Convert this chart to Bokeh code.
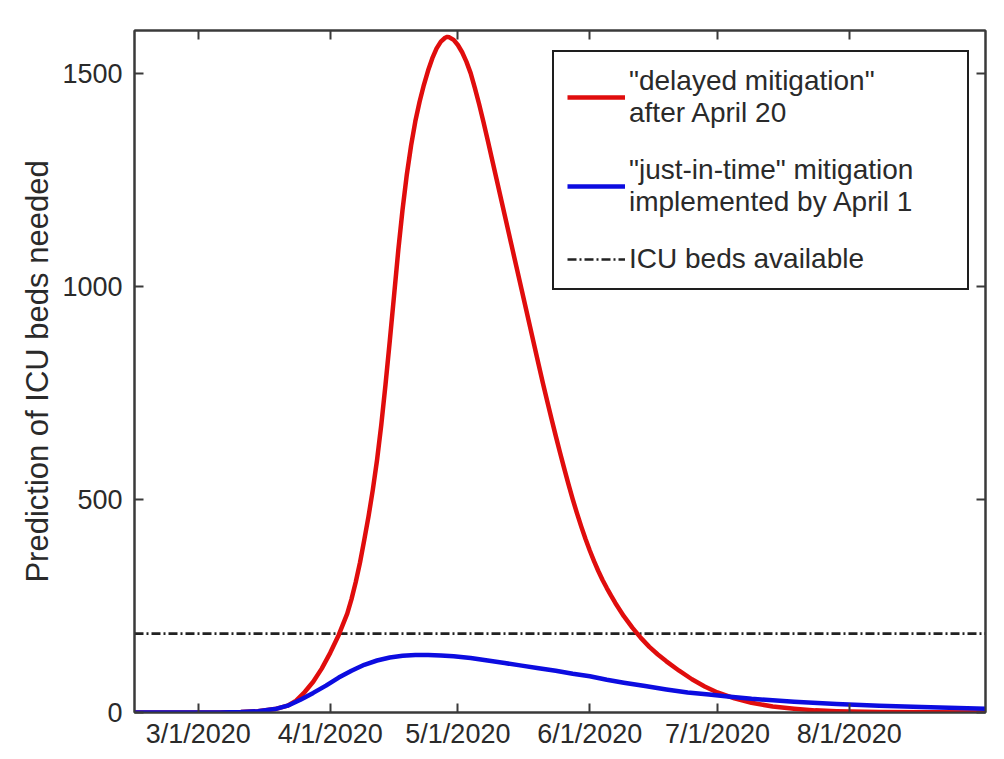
from bokeh.plotting import figure
from bokeh.models import Range1d, LinearAxis, FixedTicker, Legend, LegendItem
from bokeh.embed import file_html
from bokeh.resources import INLINE

# ---- data (x = days since 3/1/2020) ----
tick_days = [0, 31, 61, 92, 122, 153]
tick_labels = ["3/1/2020", "4/1/2020", "5/1/2020", "6/1/2020", "7/1/2020", "8/1/2020"]
y_ticks = [0, 500, 1000, 1500]

x_start, x_end = -15, 185
icu_beds = 185

red_days = [-15, 5, 10, 14, 18, 21, 23, 25, 27, 29, 31, 33, 35, 36, 37, 38, 39, 40, 41, 42,
            43, 44, 45, 46, 47, 48, 49, 50, 51, 52, 53, 54, 55, 56, 57, 58, 58.5, 59, 60, 61,
            62, 63, 64, 65, 66, 67, 68, 69, 70, 71, 72, 73, 74, 75, 76, 77, 78, 79, 80, 81,
            82, 83, 84, 85, 86, 87, 88, 89, 90, 91, 92, 93, 94, 95, 96, 97, 98, 100, 102, 104,
            106, 108, 110, 113, 116, 119, 122, 126, 130, 135, 140, 145, 150, 160, 185]
red_vals = [0, 0, 1, 3, 8, 16, 28, 48, 72, 103, 140, 182, 232, 266, 306, 352, 405, 460, 522, 592,
            675, 770, 872, 978, 1085, 1180, 1262, 1330, 1387, 1433, 1472, 1506, 1535, 1558, 1574, 1583, 1585, 1584, 1578, 1566,
            1549, 1527, 1500, 1465, 1427, 1386, 1343, 1299, 1255, 1211, 1167, 1123, 1079, 1035, 991, 947, 903, 859, 815, 772,
            730, 689, 649, 610, 572, 535, 500, 467, 436, 407, 380, 355, 332, 311, 292, 274, 257, 226, 199, 175,
            154, 136, 120, 98, 78, 61, 47, 33, 23, 14, 9, 5, 3, 1, 0]

blue_days = [-15, 5, 10, 14, 18, 21, 24, 27, 30, 33, 36, 39, 42, 45, 48, 51, 54, 57, 60, 64,
             68, 72, 76, 80, 84, 88, 92, 96, 100, 105, 110, 115, 120, 125, 130, 140, 150, 160, 170, 185]
blue_vals = [0, 0, 1, 3, 8, 16, 30, 46, 63, 82, 98, 112, 122, 129, 133, 135, 135, 134, 132, 128,
             122, 116, 110, 104, 98, 91, 85, 77, 70, 62, 54, 47, 42, 37, 32, 25, 20, 16, 13, 9]

label_red = '"delayed mitigation"\nafter April 20'
label_blue = '"just-in-time" mitigation\nimplemented by April 1'
label_icu = "ICU beds available"
y_label = "Prediction of ICU beds needed"

FONT = "Liberation Sans"
AXC = "#3a3a3a"
TXT = "#2a2a2a"

p = figure(width=996, height=751, output_backend="svg", toolbar_location=None,
           x_range=Range1d(x_start, x_end), y_range=Range1d(0, 1600),
           min_border_left=134, min_border_right=11, min_border_top=30, min_border_bottom=39,
           background_fill_color="white", border_fill_color="white")
p.xgrid.visible = False
p.ygrid.visible = False
p.outline_line_color = AXC
p.outline_line_width = 2

r_icu = p.line([x_start, x_end], [icu_beds, icu_beds], line_color="#222222", line_width=2.6,
               line_dash="9 3 2 3")
r_red = p.line(red_days, red_vals, line_color="#e00d0d", line_width=4.5, line_join="round")
r_blue = p.line(blue_days, blue_vals, line_color="#0c0ce0", line_width=4.5, line_join="round")

def style_axis(ax, labels=True):
    ax.axis_line_color = AXC
    ax.axis_line_width = 2
    ax.major_tick_line_color = AXC
    ax.major_tick_line_width = 2
    ax.major_tick_in = 9
    ax.major_tick_out = 0
    ax.minor_tick_line_color = None
    if labels:
        ax.major_label_text_font = FONT
        ax.major_label_text_font_size = "27px"
        ax.major_label_text_color = TXT
    else:
        ax.major_label_text_font_size = "0px"
        ax.major_label_standoff = 0

xax = p.xaxis[0]
xax.ticker = FixedTicker(ticks=tick_days)
xax.major_label_overrides = {d: l for d, l in zip(tick_days, tick_labels)}
style_axis(xax)
xax.major_label_standoff = 6

yax = p.yaxis[0]
yax.ticker = FixedTicker(ticks=y_ticks)
style_axis(yax)
yax.major_label_standoff = 12
yax.axis_label = y_label
yax.axis_label_text_font = FONT
yax.axis_label_text_font_size = "31px"
yax.axis_label_text_font_style = "normal"
yax.axis_label_text_color = TXT
yax.axis_label_standoff = 4

top = LinearAxis(ticker=FixedTicker(ticks=tick_days))
top.major_label_overrides = {d: "" for d in tick_days}
style_axis(top, labels=False)
p.add_layout(top, "above")

right = LinearAxis(ticker=FixedTicker(ticks=y_ticks))
right.major_label_overrides = {v: "" for v in y_ticks}
style_axis(right, labels=False)
p.add_layout(right, "right")

legend = Legend(items=[LegendItem(label=label_red, renderers=[r_red]),
                       LegendItem(label=label_blue, renderers=[r_blue]),
                       LegendItem(label=label_icu, renderers=[r_icu])],
                location=(418, 422))
legend.label_text_font = FONT
legend.label_text_font_size = "28px"
legend.label_text_color = TXT
legend.border_line_color = "#1e1e1e"
legend.border_line_alpha = 1
legend.border_line_width = 2
legend.background_fill_color = "white"
legend.background_fill_alpha = 1
legend.padding = 13
legend.spacing = 25
legend.glyph_width = 58
legend.label_standoff = 4
legend.label_width = 325
p.add_layout(legend, "center")

open("out.html", "w").write(file_html(p, INLINE))
